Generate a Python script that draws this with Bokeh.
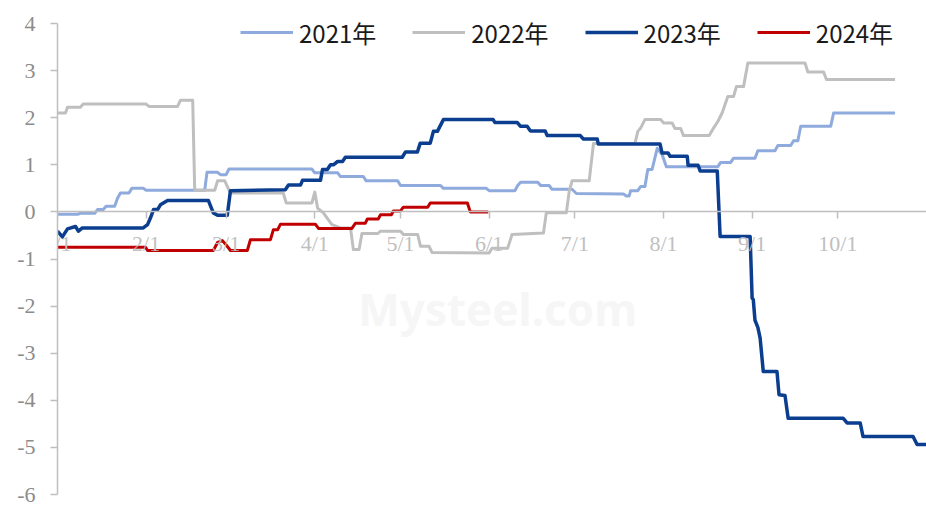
from bokeh.plotting import figure
from bokeh.models import FixedTicker, Legend, LegendItem, Label, Range1d
from bokeh.embed import file_html
from bokeh.resources import INLINE

# ---- data (x = day of year, 0 = Jan 1) ----
month_days = [0, 31, 59, 90, 120, 151, 181, 212, 243, 273]
month_labels = ["1/1", "2/1", "3/1", "4/1", "5/1", "6/1", "7/1", "8/1", "9/1", "10/1"]
y_ticks = [-6, -5, -4, -3, -2, -1, 0, 1, 2, 3, 4]
y_labels = ["-6", "-5", "-4", "-3", "-2", "-1", "0", "1", "2", "3", "4"]

series_names = ["2021年", "2022年", "2023年", "2024年"]

d2021 = [0, 7, 8, 13, 14, 16, 17, 20, 21, 22, 25, 26, 30, 31, 51.5, 52.3, 56, 57, 59, 60, 89, 90, 98, 99,
         107, 108, 119, 120, 134, 135, 150, 151, 160, 161, 162, 168, 169, 172, 173, 180, 181.5, 198, 199,
         200, 200.5, 203, 204, 205.5, 206.5, 208, 209.8, 211.5, 213, 231, 232, 235.5, 236.5, 244, 245, 251,
         252, 256.5, 257.5, 259, 260, 270.5, 271.5, 293]
v2021 = [-0.05, -0.05, -0.03, -0.03, 0.05, 0.05, 0.12, 0.12, 0.29, 0.40, 0.40, 0.50, 0.50, 0.46, 0.46, 0.84,
         0.84, 0.79, 0.79, 0.91, 0.91, 0.83, 0.83, 0.75, 0.75, 0.66, 0.66, 0.56, 0.56, 0.50, 0.50, 0.45, 0.45,
         0.56, 0.63, 0.63, 0.56, 0.56, 0.48, 0.48, 0.39, 0.38, 0.34, 0.34, 0.45, 0.45, 0.54, 0.54, 0.90, 0.90,
         1.35, 1.22, 0.96, 0.96, 1.05, 1.05, 1.14, 1.14, 1.30, 1.30, 1.41, 1.41, 1.51, 1.51, 1.82, 1.82, 2.10,
         2.10]

d2022 = [0, 2.8, 3.5, 8, 9, 31, 32, 42, 43, 47.3, 48, 55, 56, 58.5, 60.5, 79, 80, 89, 90, 91, 93, 96, 99,
         102.5, 103.5, 105.5, 106.5, 112, 113, 120, 121, 126, 127, 130, 131, 151, 152, 157.5, 159, 170, 171,
         178, 179, 180, 186, 187.5, 202, 203, 204, 205.5, 211, 212, 215, 216, 218, 219, 228, 229.5, 231,
         232.5, 234.5, 236.5, 237.5, 240, 241.5, 261.5, 262.5, 268, 269, 293]
v2022 = [2.10, 2.10, 2.22, 2.22, 2.29, 2.29, 2.24, 2.24, 2.37, 2.37, 0.46, 0.46, 0.66, 0.66, 0.40, 0.40, 0.19,
         0.19, 0.42, 0.08, -0.02, -0.27, -0.34, -0.34, -0.80, -0.80, -0.46, -0.46, -0.41, -0.41, -0.48, -0.48,
         -0.73, -0.73, -0.86, -0.87, -0.77, -0.77, -0.48, -0.45, -0.02, -0.02, 0.43, 0.66, 0.66, 1.45, 1.45,
         1.71, 1.78, 1.96, 1.96, 1.89, 1.89, 1.77, 1.77, 1.62, 1.62, 1.78, 1.92, 2.10, 2.45, 2.45, 2.66, 2.66,
         3.16, 3.16, 2.97, 2.97, 2.81, 2.81]

d2023 = [0, 1.7, 3.5, 6.3, 7.3, 8.7, 30, 31.5, 32.5, 33.6, 35, 36, 38.5, 52.8, 54.5, 56, 59.4, 60.5, 79.7,
         80.8, 85, 85.7, 92, 92.7, 94.4, 95.5, 96.5, 98, 99.7, 100.7, 120.6, 121.7, 125.9, 126.9, 130.4,
         131.5, 132.9, 135, 152.4, 153, 160.8, 161.9, 164.3, 165.4, 170.6, 171.3, 182.9, 183.9, 188.8,
         189.2, 210.8, 211.5, 213.6, 214.3, 220.3, 220.6, 224.1, 224.8, 230.8, 231.8, 242.3, 243, 243.4,
         244, 245, 245.8, 246.9, 251.7, 252.4, 254.5, 255.6, 274.8, 276.2, 280.8, 281.8, 299.3, 300.7, 304]
v2023 = [-0.41, -0.53, -0.36, -0.31, -0.41, -0.34, -0.34, -0.27, -0.13, 0.05, 0.05, 0.15, 0.24, 0.24, -0.02,
         -0.07, -0.07, 0.45, 0.47, 0.57, 0.57, 0.67, 0.67, 0.90, 0.90, 1.00, 1.00, 1.07, 1.07, 1.16, 1.16,
         1.27, 1.27, 1.46, 1.46, 1.71, 1.71, 1.96, 1.96, 1.90, 1.90, 1.82, 1.82, 1.72, 1.72, 1.62, 1.62, 1.55,
         1.55, 1.44, 1.44, 1.25, 1.25, 1.18, 1.18, 0.99, 0.99, 0.87, 0.87, -0.52, -0.52, -1.83, -1.86, -2.30,
         -2.45, -2.68, -3.39, -3.39, -3.88, -3.90, -4.38, -4.38, -4.48, -4.48, -4.77, -4.77, -4.94, -4.94]

d2024 = [0, 30.8, 31.5, 54.5, 56, 57.7, 59, 60.5, 66.4, 67.5, 74.5, 75.5, 77, 78, 90.2, 91.3, 103, 104.2,
         107.7, 108.4, 112.2, 113, 116.8, 117.5, 120, 121, 129.5, 130.4, 143.4, 144.4, 150.7]
v2024 = [-0.75, -0.75, -0.82, -0.82, -0.65, -0.61, -0.70, -0.82, -0.82, -0.59, -0.59, -0.38, -0.38, -0.26,
         -0.26, -0.35, -0.35, -0.24, -0.24, -0.15, -0.15, -0.06, -0.06, 0.02, 0.02, 0.10, 0.10, 0.19, 0.19,
         0.00, 0.00]

colors = ["#8FAADC", "#BFBFBF", "#0B3E8F", "#C00000"]
widths = [3, 3, 3.5, 3]

# y range has a little headroom above 4 (for the legend); the axis itself stops at 4
p = figure(width=926, height=507, output_backend="svg", toolbar_location=None,
           x_range=Range1d(0, 304), y_range=Range1d(-6, 4.255),
           min_border_left=57, min_border_right=0, min_border_top=11, min_border_bottom=13)
p.outline_line_color = None
p.xgrid.visible = False
p.ygrid.visible = False
p.background_fill_color = "white"

wm = Label(x=154, y=-2.07, text="Mysteel.com", text_font="Noto Sans", text_font_size="44px",
           text_font_style="bold", text_color="#F6F6F6", text_align="center", text_baseline="middle")
p.add_layout(wm)

renderers = []
for d, v, c, w in zip([d2021, d2022, d2023, d2024], [v2021, v2022, v2023, v2024], colors, widths):
    r = p.line(d, v, line_color=c, line_width=w, line_join="round")
    renderers.append(r)

# x axis crossing at y = 0
xa = p.xaxis[0]
xa.fixed_location = 0
xa.ticker = FixedTicker(ticks=month_days)
xa.major_label_overrides = {d: lab for d, lab in zip(month_days, month_labels)}
xa.axis_line_color = "#BFBFBF"
xa.axis_line_width = 1.5
xa.major_tick_line_color = "#BFBFBF"
xa.major_tick_line_width = 1.5
xa.major_tick_in = 0
xa.major_tick_out = 7
xa.minor_tick_line_color = None
xa.major_label_text_font = "Liberation Serif"
xa.major_label_text_font_size = "22px"
xa.major_label_text_color = "#BFBFBF"
xa.major_label_standoff = 12

ya = p.yaxis[0]
ya.ticker = FixedTicker(ticks=y_ticks)
ya.bounds = (y_ticks[0], y_ticks[-1])
ya.major_label_overrides = {t: lab for t, lab in zip(y_ticks, y_labels)}
ya.axis_line_color = "#BFBFBF"
ya.axis_line_width = 1.5
ya.major_tick_line_color = "#BFBFBF"
ya.major_tick_line_width = 1.5
ya.major_tick_in = 0
ya.major_tick_out = 7
ya.minor_tick_line_color = None
ya.major_label_text_font = "Liberation Serif"
ya.major_label_text_font_size = "22px"
ya.major_label_text_color = "#8C8C8C"
ya.major_label_standoff = 15

legend = Legend(items=[LegendItem(label=n, renderers=[r]) for n, r in zip(series_names, renderers)],
                orientation="horizontal", location=(183, 444),
                label_text_font="Noto Sans CJK SC", label_text_font_size="24px", label_text_color="#1A1A1A",
                glyph_width=53, glyph_height=36, label_height=36, label_standoff=6, spacing=36,
                padding=0, margin=0, border_line_color=None, background_fill_alpha=0)
p.add_layout(legend, "center")

open("out.html", "w").write(file_html(p, INLINE))
